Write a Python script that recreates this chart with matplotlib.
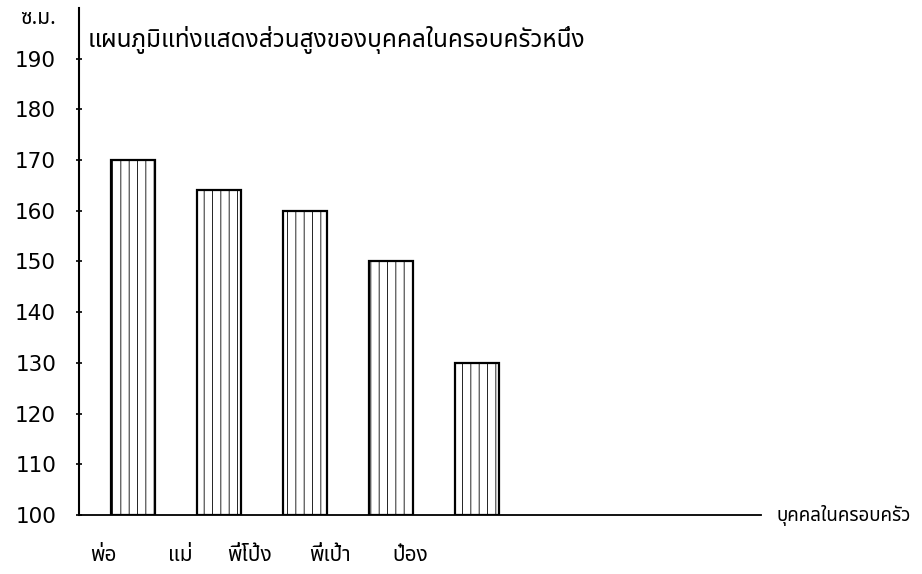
import matplotlib
matplotlib.use('Agg')
import matplotlib.pyplot as plt
from matplotlib import font_manager
from matplotlib.ft2font import FT2Font
import matplotlib.transforms as mtransforms

# data (cm)
people = ['พ่อ', 'แม่', 'พี่โป้ง', 'พี่เป้า', 'ป๋อง']
heights = [170, 164, 160, 150, 130]
yticks = [100, 110, 120, 130, 140, 150, 160, 170, 180, 190]
base = 100

title = 'แผนภูมิแท่งแสดงส่วนสูงของบุคคลในครอบครัวหนึ่ง'
xlabel = 'บุคคลในครอบครัว'
unit = 'ซ.ม.'


def find_thai_font():
    # look for an installed font that has Thai glyphs
    found = []
    for f in font_manager.fontManager.ttflist:
        try:
            cmap = FT2Font(f.fname).get_charmap()
        except Exception:
            continue
        if 0x0E01 in cmap and 0x0E48 in cmap:
            found.append(f.name)
    for pref in ['Noto Sans Thai', 'Noto Sans Thai Looped', 'Loma', 'Garuda',
                 'Norasi', 'Noto Sans', 'DejaVu Sans']:
        if pref in found:
            return pref
    return found[0] if found else 'DejaVu Sans'


thai = find_thai_font()
fam = [thai, 'DejaVu Sans']
plt.rcParams['hatch.linewidth'] = 0.6

fig = plt.figure(figsize=(9.22, 5.74), dpi=100)
ax = fig.add_axes([0.0857, 0.103, 0.740, 0.883])

x = list(range(len(people)))
ax.bar(x, [h - base for h in heights], bottom=base, width=0.51,
       color='white', edgecolor='black', linewidth=1.6, hatch='||')

ax.set_ylim(100, 200)
ax.set_xlim(-0.63, 7.31)
ax.set_yticks(yticks)
ax.set_yticklabels([str(v) for v in yticks], fontsize=15.5, family='DejaVu Sans')
ax.tick_params(axis='y', direction='inout', length=5, width=1.2, pad=14)
ax.set_xticks([])
for s in ['top', 'right']:
    ax.spines[s].set_visible(False)
ax.spines['left'].set_linewidth(1.5)
ax.spines['bottom'].set_linewidth(1.3)

# category names sit a little left of the bars, as in the typed original
label_x = [-0.35, 0.55, 1.36, 2.29, 3.22]
trans = mtransforms.blended_transform_factory(ax.transData, ax.transAxes)
for lx, name in zip(label_x, people):
    ax.text(lx, -0.08, name, transform=trans, ha='center', va='center',
            fontsize=15, family=fam)

fig.text(88 / 922, 1 - 40 / 574, title, ha='left', va='center',
         fontsize=17.5, family=fam)
fig.text(20 / 922, 1 - 19 / 574, unit, ha='left', va='center',
         fontsize=15, family=fam)
fig.text(776 / 922, 1 - 515 / 574, xlabel, ha='left', va='center',
         fontsize=13.5, family=fam)

fig.savefig('out.png', dpi=100)
